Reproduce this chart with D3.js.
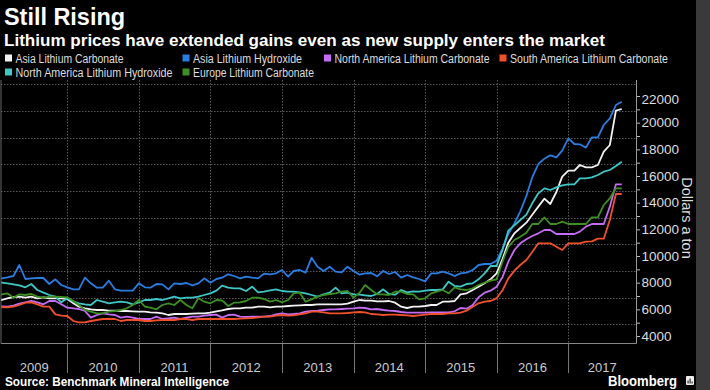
<!DOCTYPE html>
<html>
<head>
<meta charset="utf-8">
<script src="https://cdn.jsdelivr.net/npm/d3@7"></script>
<style>
  html, body { margin: 0; padding: 0; background: #000; }
  svg { display: block; }
  text { font-family: "Liberation Sans", Arial, sans-serif; }
</style>
</head>
<body>
<svg id="chart" width="710" height="390"></svg>
<script>
// ---------- DATA (monthly, Jan 2009 – Oct 2017, US$ per ton) ----------
const startYear = 2009, startMonth = 0, monthCount = 106;

const asiaCarbonate = [
  6700, 6700, 6825, 6925, 6950, 6875, 6950, 6825, 6900, 6825, 6825, 6825,
  6775, 6450, 6200, 6075, 6000, 5950, 5950, 5900, 5900, 5875, 5875, 5850,
  5825, 5825, 5775, 5750, 5700, 5575, 5650, 5650, 5650, 5675, 5700, 5700,
  5750, 5850, 5925, 6025, 6075, 6075, 6125, 6125, 6200, 6200, 6150, 6200,
  6200, 6250, 6275, 6300, 6325, 6325, 6375, 6375, 6375, 6375, 6375, 6425,
  6575, 6700, 6650, 6650, 6600, 6600, 6625, 6500, 6200, 6100, 6200, 6200,
  6250, 6325, 6325, 6575, 6575, 6625, 7125, 7200, 7450, 7700, 7950, 8250,
  8700, 9800, 11000, 11700, 12100, 12500, 13100, 13700, 14300, 13900, 14800, 15950,
  16400, 16400, 16825, 16650, 16650, 16825, 17825, 18325, 20900, 21025
];
const asiaHydroxide = [
  8325, 8325, 8400, 8500, 9325, 8275, 8325, 8350, 8350, 7900, 8250, 7825,
  7650, 7500, 7500, 8375, 7950, 7625, 7625, 8150, 7500, 7400, 7400, 7400,
  7950, 7650, 7625, 7900, 7875, 7500, 7950, 7900, 7975, 7800, 7950, 8325,
  8000, 8275, 8375, 8625, 8500, 8325, 8450, 8375, 8325, 8675, 8625, 8700,
  8950, 8450, 8875, 8950, 8750, 9875, 9200, 8875, 9200, 8825, 8775, 9200,
  8875, 8600, 8700, 8725, 8475, 8875, 8650, 8800, 8375, 8575, 8400, 8275,
  8100, 8700, 8700, 8825, 8700, 8500, 8700, 8750, 8950, 9325, 9400, 9400,
  9650, 10575, 11650, 12450, 13350, 14500, 15900, 16900, 17300, 17550, 17400, 17900,
  18825, 18400, 18375, 18125, 18900, 18900, 19825, 20325, 21325, 21575
];
const naCarbonate = [
  6250, 6225, 6200, 6275, 6425, 6525, 6625, 6525, 6375, 6625, 6625, 6375,
  6125, 6075, 6025, 5875, 5375, 5575, 5700, 5625, 5575, 5375, 5450, 5375,
  5275, 5275, 5275, 5450, 5275, 5325, 5375, 5275, 5375, 5450, 5450, 5525,
  5575, 5600, 5375, 5575, 5600, 5450, 5425, 5450, 5450, 5450, 5500, 5625,
  5700, 5625, 5650, 5700, 5825, 5875, 5900, 5950, 6000, 6000, 6025, 6050,
  6075, 6125, 6100, 6000, 6025, 5950, 5900, 5875, 5800, 5750, 5750, 5750,
  5750, 5775, 5775, 5775, 5775, 5850, 6100, 6050, 6325, 6900, 7250, 7400,
  7700, 8450, 9575, 10450, 10950, 11250, 11500, 11700, 11950, 11950, 11650, 11650,
  11650, 11650, 11825, 12200, 12400, 12400, 12400, 13700, 15375, 15375
];
const saCarbonate = [
  6200, 6175, 6150, 6200, 6325, 6500, 6525, 6375, 6200, 6200, 5625, 5525,
  5500, 5125, 5025, 5025, 5125, 5200, 5275, 5275, 5275, 5125, 5200, 5200,
  5200, 5125, 5125, 5175, 5200, 5200, 5200, 5275, 5275, 5200, 5275, 5275,
  5275, 5275, 5275, 5275, 5275, 5300, 5325, 5350, 5400, 5450, 5450, 5525,
  5575, 5525, 5550, 5625, 5700, 5825, 5825, 5775, 5700, 5700, 5700, 5725,
  5775, 5800, 5775, 5650, 5625, 5575, 5600, 5600, 5575, 5550, 5500, 5550,
  5600, 5650, 5650, 5650, 5700, 5700, 5750, 5900, 6200, 6450, 6575, 6625,
  6825, 7450, 8325, 8900, 9325, 9700, 10300, 10950, 10950, 10950, 10700, 10450,
  10950, 10950, 10950, 11075, 11100, 11300, 11300, 12700, 14650, 14650
];
const naHydroxide = [
  8025, 8000, 7950, 7875, 7800, 7650, 7900, 7450, 7250, 7075, 6950, 6525,
  6825, 6575, 6450, 6375, 6325, 6700, 6575, 6450, 6525, 6575, 6525, 6375,
  6525, 6700, 6700, 6775, 6700, 6825, 6950, 6825, 6875, 6875, 6950, 7075,
  7200, 7400, 7775, 7625, 7575, 7575, 7375, 7700, 7275, 7325, 7425, 7500,
  7375, 7325, 7325, 7275, 7200, 7075, 6950, 7125, 7250, 7625, 7200, 7250,
  7125, 7100, 7050, 7000, 7150, 7500, 7150, 7100, 7450, 7275, 7350, 7325,
  7400, 7450, 7450, 7500, 8075, 7750, 7700, 7900, 7950, 8250, 8700, 9250,
  9250, 10500, 11900, 12300, 12700, 13100, 13950, 14700, 15075, 14950, 15150, 15300,
  15375, 15375, 15825, 15825, 15900, 16075, 16325, 16450, 16750, 17075
];
const euCarbonate = [
  7025, 7125, 7200, 6875, 7125, 7075, 7150, 6950, 6875, 6950, 6950, 6925,
  6900, 6625, 6325, 5950, 5825, 5700, 5700, 5825, 5875, 5950, 6075, 6325,
  6700, 6200, 6125, 6000, 6325, 6450, 6325, 6700, 6325, 6075, 6825, 6575,
  6450, 6700, 6675, 6250, 6500, 6525, 6625, 6875, 6875, 6775, 6575, 6700,
  6525, 6700, 7200, 7250, 6575, 6750, 6950, 7075, 7150, 7200, 7325, 7375,
  6875, 7250, 7825, 7450, 7125, 7125, 7075, 7325, 7325, 7150, 7125, 6750,
  6825, 7200, 7325, 7450, 7200, 7650, 7500, 7450, 7575, 7825, 8000, 8150,
  8250, 9600, 10700, 11200, 11450, 11750, 12400, 12400, 12900, 12400, 12400, 12575,
  12400, 12400, 12400, 12400, 12900, 12900, 13825, 14325, 15075, 15075
];

const seriesNames = [
  "Asia Lithium Carbonate", "Asia Lithium Hydroxide", "North America Lithium Carbonate",
  "South America Lithium Carbonate", "North America Lithium Hydroxide", "Europe Lithium Carbonate"
];
const seriesColors = ["#f2f2f2", "#2a7de1", "#c46cf2", "#f0512b", "#3fc6c6", "#3c8f22"];
const seriesValues = [asiaCarbonate, asiaHydroxide, naCarbonate, saCarbonate, naHydroxide, euCarbonate];

const yTickValues = d3.range(4000, 22001, 1000);
const yLabelValues = [4000, 6000, 8000, 10000, 12000, 14000, 16000, 18000, 20000, 22000];
const gridValues = [4875, 6875, 8875, 10875, 12875, 14875, 16875, 18875, 20875, 22875];
const yearLabels = ["2009", "2010", "2011", "2012", "2013", "2014", "2015", "2016", "2017"];

// ---------- LAYOUT ----------
const plot = { left: 1, right: 636, top: 80, bottom: 343.5 };
const svg = d3.select("#chart");
const dates = d3.range(monthCount).map(i => new Date(startYear, startMonth + i, 1));

const x = d3.scaleTime()
  .domain([new Date(2009, 0, 1), new Date(2017, 0, 1)])
  .range([-4.2, 568.3]);
const y = d3.scaleLinear().domain([4000, 22000]).range([336, 96]);

function fit(sel, w) {
  sel.attr("textLength", w).attr("lengthAdjust", "spacingAndGlyphs");
}

// right gray band
svg.append("rect").attr("x", 696).attr("y", 0).attr("width", 14).attr("height", 390).attr("fill", "#3a3a3a");

// titles
svg.append("text").attr("x", 4).attr("y", 25).attr("fill", "#fff")
  .attr("font-size", 23).attr("font-weight", "bold").text("Still Rising").call(fit, 121);
svg.append("text").attr("x", 4).attr("y", 46).attr("fill", "#fff")
  .attr("font-size", 16.5).attr("font-weight", "bold")
  .text("Lithium prices have extended gains even as new supply enters the market").call(fit, 601);

// legend
const legendPos = [
  { x: 5, y: 58, w: 108 }, { x: 182.5, y: 58, w: 109 }, { x: 324, y: 58, w: 155 },
  { x: 499.5, y: 58, w: 158 }, { x: 5, y: 72, w: 157 }, { x: 182.5, y: 72, w: 121 }
];
const lg = svg.append("g").selectAll("g").data(seriesNames).join("g")
  .attr("transform", (d, i) => `translate(${legendPos[i].x},${legendPos[i].y})`);
lg.append("rect").attr("x", 0).attr("y", -3.5).attr("width", 7).attr("height", 7)
  .attr("fill", (d, i) => seriesColors[i]);
lg.append("text").attr("x", 10.5).attr("y", 4.5).attr("fill", "#ddd").attr("font-size", 12.5)
  .text(d => d).each(function (d, i) { d3.select(this).call(fit, legendPos[i].w); });

// horizontal dotted gridlines
svg.append("g").selectAll("line").data(gridValues).join("line")
  .attr("x1", plot.left).attr("x2", plot.right)
  .attr("y1", d => Math.round(y(d)) + 0.5).attr("y2", d => Math.round(y(d)) + 0.5)
  .attr("stroke", "#5a5a5a").attr("stroke-width", 1).attr("stroke-dasharray", "1.5,1.5");

// year boundaries
const yearStarts = d3.range(2010, 2018).map(yr => new Date(yr, 0, 1));
svg.append("g").selectAll("line").data(yearStarts).join("line")
  .attr("x1", d => Math.round(x(d)) + 0.5).attr("x2", d => Math.round(x(d)) + 0.5)
  .attr("y1", plot.top).attr("y2", plot.bottom)
  .attr("stroke", "#5a5a5a").attr("stroke-dasharray", "1.5,1.5");
svg.append("g").selectAll("line").data(yearStarts).join("line")
  .attr("x1", d => Math.round(x(d)) + 0.5).attr("x2", d => Math.round(x(d)) + 0.5)
  .attr("y1", plot.bottom).attr("y2", 373)
  .attr("stroke", "#777");

// year labels centered in visible segment
const bounds = [plot.left, ...yearStarts.map(x), plot.right];
svg.append("g").selectAll("text").data(yearLabels).join("text")
  .attr("x", (d, i) => (bounds[i] + bounds[i + 1]) / 2).attr("y", 371.5)
  .attr("text-anchor", "middle").attr("fill", "#ccc").attr("font-size", 13).text(d => d);

// lines
svg.append("clipPath").attr("id", "clip").append("rect")
  .attr("x", plot.left).attr("y", plot.top)
  .attr("width", plot.right - plot.left).attr("height", plot.bottom - plot.top);
const line = d3.line().x((d, i) => x(dates[i])).y(d => y(d));
svg.append("g").attr("clip-path", "url(#clip)").selectAll("path").data(seriesValues).join("path")
  .attr("d", line).attr("fill", "none")
  .attr("stroke", (d, i) => seriesColors[i]).attr("stroke-width", 1.8)
  .attr("stroke-linejoin", "round");

// axes lines
svg.append("line").attr("x1", plot.left).attr("x2", plot.right + 0.5)
  .attr("y1", plot.bottom).attr("y2", plot.bottom).attr("stroke", "#888");
svg.append("line").attr("x1", plot.left).attr("x2", plot.left)
  .attr("y1", plot.top).attr("y2", plot.bottom).attr("stroke", "#666");

// right y axis
const yAxis = d3.axisRight(y).tickValues(yTickValues).tickSize(3.5)
  .tickFormat(d => yLabelValues.includes(d) ? d : "");
const ya = svg.append("g").attr("transform", `translate(${plot.right + 0.5},0)`).call(yAxis);
ya.select(".domain").remove();
ya.selectAll(".tick line").attr("stroke", "#bbb");
ya.selectAll(".tick text").attr("fill", "#ddd").attr("font-size", 13.5).attr("x", 5)
  .attr("dy", d => d === 22000 ? "0.55em" : "0.32em")
  .attr("font-family", "'Liberation Sans', Arial, sans-serif");
svg.append("line").attr("x1", plot.right + 0.5).attr("x2", plot.right + 0.5)
  .attr("y1", plot.top).attr("y2", plot.bottom).attr("stroke", "#999");

// axis title
svg.append("text").attr("transform", "translate(687,218) rotate(90)")
  .attr("text-anchor", "middle").attr("dy", "0.35em")
  .attr("fill", "#ddd").attr("font-size", 14.5).text("Dollars a ton");

// footer
svg.append("text").attr("x", 5).attr("y", 386).attr("fill", "#fff")
  .attr("font-size", 12).attr("font-weight", "bold")
  .text("Source: Benchmark Mineral Intelligence").call(fit, 224);
svg.append("text").attr("x", 608).attr("y", 386).attr("fill", "#fff")
  .attr("font-size", 15.5).attr("font-weight", "bold").text("Bloomberg").call(fit, 69);
const icon = svg.append("g").attr("transform", "translate(686,376)");
icon.append("rect").attr("width", 8).attr("height", 9).attr("rx", 1).attr("fill", "#eee");
icon.selectAll("rect.bar").data([3, 5, 2]).join("rect").attr("class", "bar")
  .attr("x", (d, i) => 1.5 + i * 2).attr("y", d => 7.5 - d).attr("width", 1.2).attr("height", d => d)
  .attr("fill", "#333");
</script>
</body>
</html>
